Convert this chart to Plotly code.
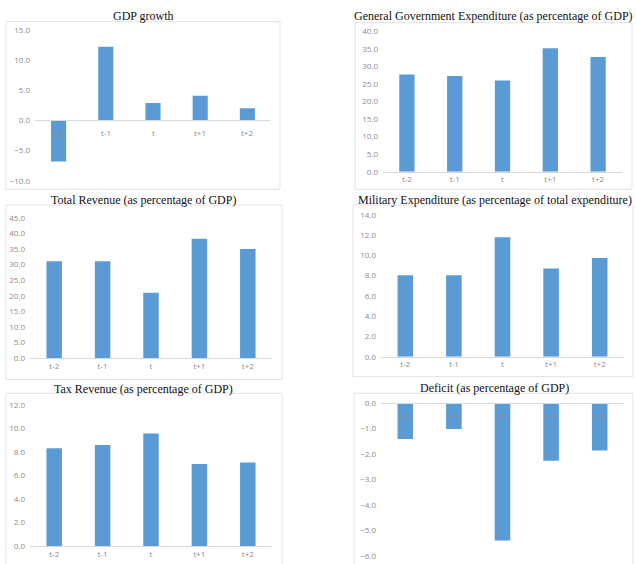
import plotly.graph_objects as go

categories = ["t-2", "t-1", "t", "t+1", "t+2"]
gdp_growth = [-6.8, 12.2, 2.9, 4.1, 2.0]
gov_expenditure = [27.7, 27.3, 26.0, 35.2, 32.7]
total_revenue = [31.1, 31.1, 21.0, 38.3, 35.0]
military_expenditure = [8.05, 8.05, 11.8, 8.7, 9.75]
tax_revenue = [8.3, 8.58, 9.55, 6.97, 7.1]
deficit = [-1.41, -1.02, -5.4, -2.27, -1.86]

titles = [
    "GDP growth",
    "General Government Expenditure (as percentage of GDP)",
    "Total Revenue (as percentage of GDP)",
    "Military Expenditure (as percentage of total expenditure)",
    "Tax Revenue (as percentage of GDP)",
    "Deficit (as percentage of GDP)",
]
series = [gdp_growth, gov_expenditure, total_revenue, military_expenditure, tax_revenue, deficit]
yranges = [(-10, 15), (0, 40), (0, 45), (0, 14), (0, 12), (-6, 0)]
dticks = [5, 5, 5, 2, 2, 1]

W, H = 636, 564
# plot areas in pixels: (x0, x1, ytop, ybottom)
areas = [
    (35, 271, 24.3, 178.3),
    (383, 622, 26, 169),
    (30, 272, 216, 359.3),
    (381, 624, 213, 357.7),
    (30, 272, 406.7, 550.7),
    (381, 624, 405, 560.7),
]
boxes = [
    (6, 280, 16, 187),
    (355, 632, 17, 187),
    (6, 282, 203, 381),
    (353, 633, 203, 378),
    (6, 282, 395, 570),
    (354, 633, 395, 570),
]
title_pos = [(143, 10), (493, 10), (143, 198), (495, 198), (143, 391), (494, 390)]

BAR = "#5b9bd5"
TICK = "#8c8c8c"
LINE = "#d9d9d9"
TICKFONT = dict(family="Open Sans", size=8, color=TICK)

def px(x):
    return x / W

def py(y):
    return 1 - y / H

fig = go.Figure()
annotations = []
shapes = []
for i in range(6):
    n = "" if i == 0 else str(i + 1)
    xa, ya = "x" + n, "y" + n
    fig.add_trace(go.Bar(x=categories, y=series[i], xaxis=xa, yaxis=ya,
                         marker=dict(color=BAR, line=dict(width=0)), width=0.32,
                         showlegend=False, hoverinfo="skip"))
    x0, x1, yt, yb = areas[i]
    dom_y = [py(yb), py(yt)]
    lo, hi = yranges[i]
    zero_frac = dom_y[0] + (0 - lo) / (hi - lo) * (dom_y[1] - dom_y[0])
    xaxis = dict(domain=[px(x0), px(x1)], showgrid=False, zeroline=False,
                 showline=True, linecolor=LINE, linewidth=1, ticks="",
                 tickfont=TICKFONT, fixedrange=True, side="bottom")
    if lo < 0:
        xaxis.update(anchor="free", position=zero_frac, showticklabels=False)
        for c in categories:
            annotations.append(dict(text=c, x=c, y=0, xref=xa, yref=ya,
                                    showarrow=False, xanchor="center", yanchor="top",
                                    yshift=-5, font=TICKFONT))
    else:
        xaxis.update(anchor=ya)
    yaxis = dict(domain=dom_y, range=[lo, hi], dtick=dticks[i], tick0=0,
                 tickformat=".1f", showgrid=False, zeroline=False, showline=False,
                 ticks="", tickfont=TICKFONT,
                 anchor=xa, fixedrange=True, ticklabelstandoff=4)
    fig.update_layout(**{("xaxis" + n): xaxis, ("yaxis" + n): yaxis})
    bx0, bx1, by0, by1 = boxes[i]
    shapes.append(dict(type="rect", xref="paper", yref="paper",
                       x0=px(bx0), x1=px(bx1), y0=py(by1), y1=py(by0),
                       line=dict(color="#e3e3e3", width=1), layer="below"))
    tx, ty = title_pos[i]
    annotations.append(dict(text=titles[i], x=px(tx), y=py(ty), xref="paper", yref="paper",
                            showarrow=False, xanchor="center", yanchor="middle",
                            font=dict(family="Liberation Serif", size=12, color="#111111")))

fig.update_layout(width=W, height=H, margin=dict(l=0, r=0, t=0, b=0),
                  paper_bgcolor="white", plot_bgcolor="white",
                  annotations=annotations, shapes=shapes)
fig.write_html("out.html")
